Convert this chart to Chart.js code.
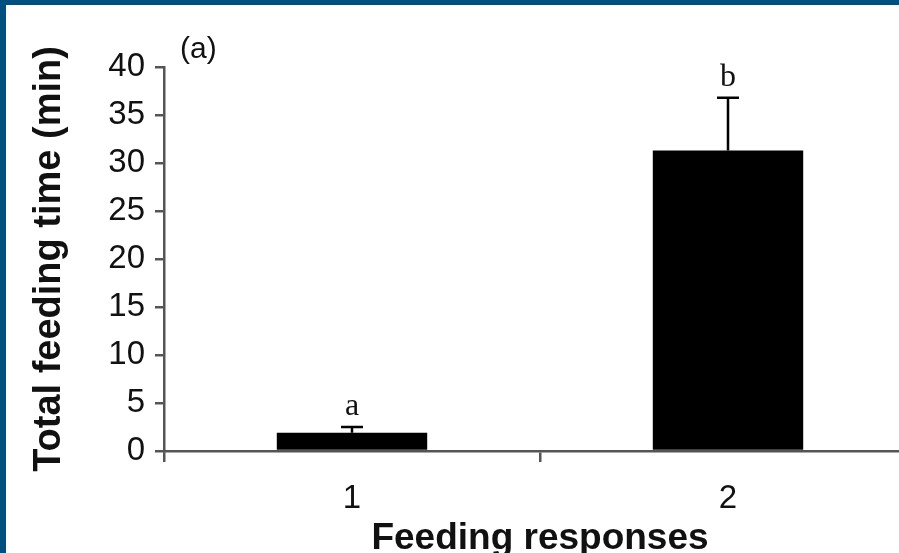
<!DOCTYPE html>
<html>
<head>
<meta charset="utf-8">
<script src="https://cdn.jsdelivr.net/npm/chart.js@4/dist/chart.umd.min.js"></script>
<style>
  html, body { margin: 0; padding: 0; background: #fff; overflow: hidden; width: 899px; height: 553px; }
  #wrap { position: relative; width: 899px; height: 553px; overflow: hidden; }
  #chart { position: absolute; left: 0; top: 0; }
  .band { position: absolute; background: #00507f; }
</style>
</head>
<body>
<div id="wrap">
  <canvas id="chart" width="940" height="553"></canvas>
  <div class="band" style="left:0;top:0;width:899px;height:5px"></div>
  <div class="band" style="left:0;top:0;width:6px;height:553px"></div>
</div>
<script>
// dados
const categorias = ['1', '2'];
const tempoMedio = [1.9, 31.3];
const erroPadrao = [0.6, 5.5];
const letras = ['a', 'b'];
const yTicks = [0, 5, 10, 15, 20, 25, 30, 35, 40];

const corEixo = '#555';

// barras de erro + letras + rótulo do painel
const errorBars = {
    id: 'errorBars',
    afterDatasetsDraw(chart) {
        const ctx = chart.ctx;
        const y = chart.scales.y;
        const meta = chart.getDatasetMeta(0);
        ctx.save();
        meta.data.forEach(function (bar, i) {
            const x = bar.x;
            const yBase = y.getPixelForValue(tempoMedio[i]);
            const yTop = y.getPixelForValue(tempoMedio[i] + erroPadrao[i]);
            ctx.strokeStyle = '#000';
            ctx.lineWidth = 2.5;
            ctx.beginPath();
            ctx.moveTo(x, yBase);
            ctx.lineTo(x, yTop);
            ctx.moveTo(x - 11, yTop);
            ctx.lineTo(x + 11, yTop);
            ctx.stroke();

            ctx.fillStyle = '#111';
            ctx.font = '32px "Liberation Serif", "Times New Roman", serif';
            ctx.textAlign = 'center';
            ctx.textBaseline = 'alphabetic';
            ctx.fillText(letras[i], x, yTop - 12);
        });
        ctx.fillStyle = '#111';
        ctx.font = '30px "Liberation Sans", Arial, sans-serif';
        ctx.textAlign = 'left';
        ctx.textBaseline = 'alphabetic';
        ctx.fillText('(a)', chart.chartArea.left + 16, chart.chartArea.top - 9);
        ctx.restore();
    }
};

const ctx = document.getElementById('chart').getContext('2d');
new Chart(ctx, {
    type: 'bar',
    data: {
        labels: categorias,
        datasets: [{
            data: tempoMedio,
            backgroundColor: '#000',
            borderWidth: 0,
            barPercentage: 0.4,
            categoryPercentage: 1
        }]
    },
    options: {
        responsive: false,
        animation: false,
        layout: { padding: { top: 67, right: 24, bottom: 0, left: 0 } },
        plugins: { legend: { display: false }, tooltip: { enabled: false } },
        scales: {
            x: {
                offset: true,
                grid: { drawOnChartArea: false, drawTicks: true, tickLength: 11, color: corEixo, lineWidth: 2.5, offset: true },
                border: { color: corEixo, width: 2.5 },
                ticks: { color: '#111', padding: 17, font: { family: '"Liberation Sans", Arial, sans-serif', size: 33 } },
                title: {
                    display: true,
                    text: 'Feeding responses',
                    color: '#111',
                    padding: { top: 0, bottom: -8 },
                    font: { family: '"Liberation Sans", Arial, sans-serif', size: 37, weight: 'bold' }
                },
                afterFit(scale) { scale.height = 102; }
            },
            y: {
                min: 0,
                max: 40,
                afterBuildTicks(scale) { scale.ticks = yTicks.map(v => ({ value: v })); },
                grid: { drawOnChartArea: false, drawTicks: true, tickLength: 9, color: corEixo, lineWidth: 2.5 },
                border: { color: corEixo, width: 2.5 },
                ticks: { color: '#111', padding: 10, font: { family: '"Liberation Sans", Arial, sans-serif', size: 33 } },
                title: {
                    display: true,
                    text: 'Total feeding time (min)',
                    color: '#111',
                    padding: { top: 27, bottom: 0 },
                    font: { family: '"Liberation Sans", Arial, sans-serif', size: 38, weight: 'bold' }
                },
                afterFit(scale) { scale.width = 164; }
            }
        }
    },
    plugins: [errorBars]
});
</script>
</body>
</html>
